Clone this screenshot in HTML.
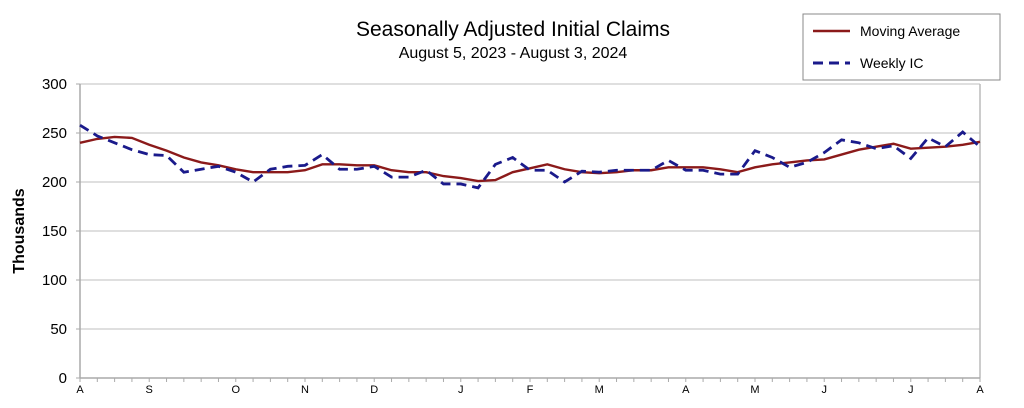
<!DOCTYPE html>
<html><head><meta charset="utf-8"><style>
body{margin:0;background:#fff;width:1024px;height:403px;overflow:hidden;font-family:"Liberation Sans",sans-serif}
</style></head><body>
<svg id="chart" width="1024" height="403" font-family="Liberation Sans, sans-serif">
<text x="513" y="36" font-size="21" text-anchor="middle">Seasonally Adjusted Initial Claims</text>
<text x="513" y="58" font-size="16" text-anchor="middle">August 5, 2023 - August 3, 2024</text>
<g>
<rect x="803" y="14" width="197" height="66" fill="#fff" stroke="#888"/>
<line x1="813" y1="31" x2="850" y2="31" stroke="#8b1a1a" stroke-width="2.5"/>
<text x="860" y="36" font-size="14">Moving Average</text>
<line x1="813" y1="63" x2="850" y2="63" stroke="#1a1a8b" stroke-width="3" stroke-dasharray="10,6"/>
<text x="860" y="68" font-size="14">Weekly IC</text>
</g>
<text transform="translate(24,231) rotate(-90)" font-size="16" font-weight="bold" text-anchor="middle">Thousands</text>
<g id="grid"></g><g id="yticks"></g><g id="xticks"></g><g id="series"></g>
</svg>
<script>
const yTicks=[0,50,100,150,200,250,300];
const monthLabels=["A","S","O","N","D","J","F","M","A","M","J","J","A"];
const monthWeeks=[0,4,9,13,17,22,26,30,35,39,43,48,52];
const weeklyIC=[258,247,240,233,228,227,210,213,216,210,200,213,216,217,228,213,213,216,205,205,212,198,198,194,218,225,212,212,200,211,210,212,212,212,222,212,212,208,208,232,225,215,220,230,243,240,234,237,224,245,236,251,236];
const movingAvg=[240,244,246,245,238,232,225,220,217,213,210,210,210,212,218,218,217,217,212,210,210,206,204,201,202,210,214,218,213,210,209,210,212,212,215,215,215,213,210,215,218,220,222,223,228,233,236,239,234,235,236,238,241];
const X0=80,X1=980,Y0=378,Y1=84,N=52;
const xs=i=>X0+(X1-X0)*i/N;
const ys=v=>Y0-(Y0-Y1)*v/300;
const NS="http://www.w3.org/2000/svg";
function mk(t,a,p){const e=document.createElementNS(NS,t);for(const k in a)e.setAttribute(k,a[k]);p.appendChild(e);return e;}
const grid=document.getElementById('grid'),yt=document.getElementById('yticks'),xt=document.getElementById('xticks'),ser=document.getElementById('series');
yTicks.forEach(v=>{
 if(v>0){const g=mk('line',{x1:X0,x2:X1,y1:ys(v),y2:ys(v),stroke:'#ccc','stroke-width':1.2},grid);
 
 }
 const t=mk('text',{x:X0-13,y:ys(v)+5,'font-size':15,'text-anchor':'end'},yt);t.textContent=v;
 
 
 mk('line',{x1:X0-4,x2:X0,y1:ys(v),y2:ys(v),stroke:'#aaa'},yt);
});
const ax=mk('line',{x1:X0,x2:X0,y1:Y1,y2:Y0,stroke:'#aaa','stroke-width':1.5},grid);


const rb=mk('line',{x1:X1,x2:X1,y1:Y1,y2:Y0,stroke:'#bbb','stroke-width':1.5},grid);


const xa=mk('line',{x1:X0,x2:X1,y1:Y0,y2:Y0,stroke:'#aaa','stroke-width':1.5},grid);


for(let i=0;i<=N;i++)mk('line',{x1:xs(i),x2:xs(i),y1:Y0,y2:Y0+4,stroke:'#aaa'},xt);
monthLabels.forEach((m,i)=>{const t=mk('text',{x:xs(monthWeeks[i]),y:393,'font-size':11,'text-anchor':'middle'},xt);t.textContent=m;
 
 });
const p1=mk('polyline',{points:movingAvg.map((v,i)=>xs(i)+','+ys(v)).join(' '),fill:'none',stroke:'#8b1a1a','stroke-width':2.4},ser);


const p2=mk('polyline',{points:weeklyIC.map((v,i)=>xs(i)+','+ys(v)).join(' '),fill:'none',stroke:'#1a1a8b','stroke-width':2.8,'stroke-dasharray':'10,6'},ser);


</script>
</body></html>
